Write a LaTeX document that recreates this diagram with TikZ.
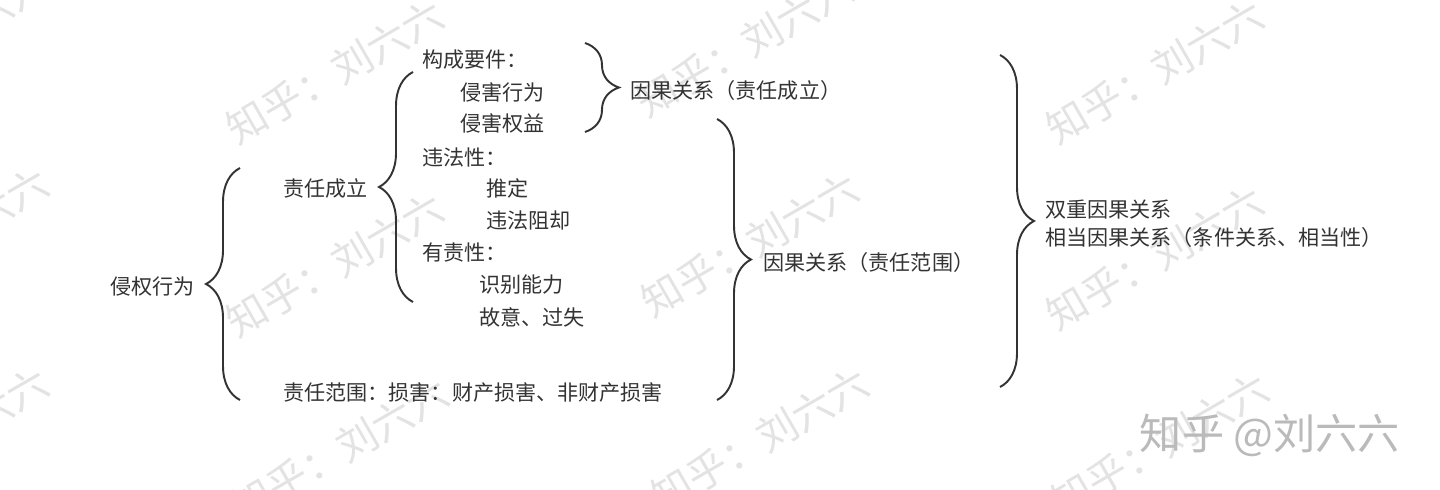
\documentclass[tikz,border=0pt]{standalone}
\usepackage{fontspec}
\setmainfont{Noto Sans CJK SC}
\usetikzlibrary{decorations.pathreplacing}

\definecolor{inkgray}{HTML}{333333}
\tikzset{
    item/.style={anchor=west, inner sep=0pt, text=inkgray, font=\fontsize{12}{14}\selectfont},
    curly/.style={decorate, decoration={brace, amplitude=0.68cm}, draw=inkgray, line width=1.1pt},
    wmark/.style={text=black!11, rotate=30, font=\fontsize{23}{26}\selectfont},
}

\begin{document}
\begin{tikzpicture}[x=0.02cm, y=-0.02cm]
    \useasboundingbox (0,0) rectangle (1440,490);
    \clip (0,0) rectangle (1440,490);

    % watermark tiles
    \foreach \wx/\wy [count=\i] in {-60/40, -60/240, -60/440, 335/72, 335/265, 340/450,
            745/45, 750/245, 760/440, 1155/72, 1155/258, 1160/445}
        \node[wmark] (wm\i) at (\wx,\wy) {知乎：刘六六};

    % texts
    \node[item] (qqxw) at (110,287) {侵权行为};
    \node[item] (zrcl) at (283,188) {责任成立};
    \node[item] (zrfw) at (283,392) {责任范围：损害：财产损害、非财产损害};

    \node[item] (gcyj) at (422,60) {构成要件：};
    \node[item] (qhxw) at (460,92) {侵害行为};
    \node[item] (qhqy) at (460,123) {侵害权益};
    \node[item] (wfx) at (422,157) {违法性：};
    \node[item] (tdng) at (486,188) {推定};
    \node[item] (wfzq) at (486,220) {违法阻却};
    \node[item] (yzx) at (422,253) {有责性：};
    \node[item] (sbnl) at (479,285) {识别能力};
    \node[item] (gygs) at (479,317) {故意、过失};

    \node[item] (ygcl) at (630,90) {因果关系（责任成立）};
    \node[item] (ygfw) at (763,262) {因果关系（责任范围）};
    \node[item] (scyg) at (1045,210) {双重因果关系};
    \node[item] (xdyg) at (1045,237) {相当因果关系（条件关系、相当性）};

    % brace ends
    \coordinate (b1t) at (240,168);
    \coordinate (b1b) at (240,400);
    \coordinate (b2t) at (413,72);
    \coordinate (b2b) at (413,302);
    \coordinate (b3t) at (585,43);
    \coordinate (b3b) at (585,132);
    \coordinate (b4t) at (717,119);
    \coordinate (b4b) at (717,400);
    \coordinate (b5t) at (1000,55);
    \coordinate (b5b) at (1000,387);

    \draw[curly] (b1b) -- (b1t);
    \draw[curly] (b2b) -- (b2t);
    \draw[curly] (b3t) -- (b3b);
    \draw[curly] (b4t) -- (b4b);
    \draw[curly] (b5t) -- (b5b);

    \node[text=black!27, font=\fontsize{24}{27}\selectfont] (zhihu) at (1270,435) {知乎 @刘六六};
\end{tikzpicture}
\end{document}
